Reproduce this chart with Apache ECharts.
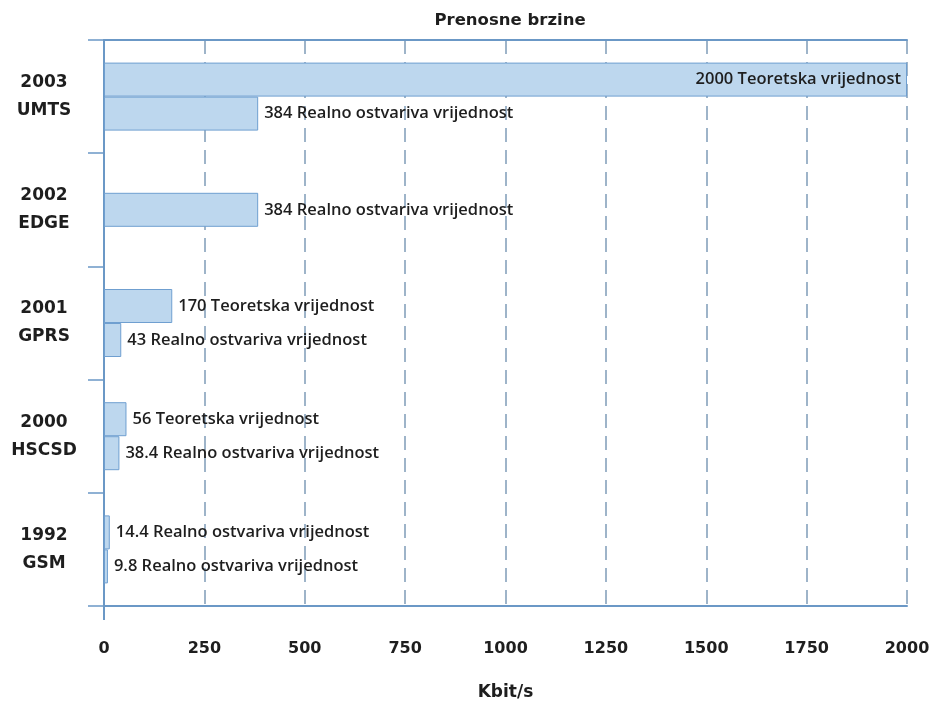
<!DOCTYPE html>
<html>
<head>
<meta charset="utf-8">
<script src="https://cdn.jsdelivr.net/npm/echarts@6/dist/echarts.min.js"></script>
<style>
  html, body { margin: 0; padding: 0; background: #ffffff; }
  #chart { width: 933px; height: 706px; }
</style>
</head>
<body>
<div id="chart"></div>
<script>
// Technologies, bottom to top
const categories = ['1992\nGSM', '2000\nHSCSD', '2001\nGPRS', '2002\nEDGE', '2003\nUMTS'];

// Upper bar of each pair (value + description)
const upperValues = [14.4, 56, 170, '-', 2000];
const upperNames = ['Realno ostvariva vrijednost', 'Teoretska vrijednost', 'Teoretska vrijednost', '', 'Teoretska vrijednost'];

// Lower bar of each pair
const lowerValues = [9.8, 38.4, 43, '-', 384];
const lowerNames = ['Realno ostvariva vrijednost', 'Realno ostvariva vrijednost', 'Realno ostvariva vrijednost', '', 'Realno ostvariva vrijednost'];

// Single (centred) bar
const singleValues = ['-', '-', '-', 384, '-'];
const singleNames = ['', '', '', 'Realno ostvariva vrijednost', ''];

const xTicks = [0, 250, 500, 750, 1000, 1250, 1500, 1750, 2000];

const AXIS = '#6b98c6';
const GRID = '#7f9cb8';
const FILL = '#bdd7ee';
const EDGE = '#6f9fd0';
const TEXT = '#1e1e1e';
const LABEL_FONT = '"Open Sans", sans-serif';

function barItems(values, names, insideAtMax) {
  return values.map((v, i) => {
    if (v === '-') return '-';
    const item = { value: v, name: names[i] };
    if (insideAtMax && v >= 2000) {
      item.label = { position: 'insideRight', distance: 6 };
    }
    return item;
  });
}

function barLabel() {
  return {
    show: true,
    position: 'right',
    distance: 6,
    color: TEXT,
    fontFamily: LABEL_FONT,
    fontSize: 16.5,
    fontWeight: 600,
    formatter: p => p.value + ' ' + p.data.name
  };
}

const barStyle = { color: FILL, borderColor: EDGE, borderWidth: 1 };

const chart = echarts.init(document.getElementById('chart'), null, { renderer: 'canvas' });

chart.setOption({
  animation: false,
  backgroundColor: '#ffffff',
  title: {
    text: 'Prenosne brzine',
    left: 505,
    textAlign: 'center',
    top: 7,
    textStyle: { fontFamily: 'DejaVu Sans', fontSize: 16.5, fontWeight: 'bold', color: TEXT }
  },
  grid: { left: 104, right: 26, top: 40, bottom: 92, containLabel: false },
  xAxis: [
    {
      type: 'value',
      min: 0,
      max: 2000,
      interval: 250,
      position: 'bottom',
      name: 'Kbit/s',
      nameLocation: 'middle',
      nameGap: 78,
      nameTextStyle: { fontFamily: 'DejaVu Sans', fontSize: 17, fontWeight: 'bold', color: TEXT },
      axisLine: { show: true, lineStyle: { color: AXIS, width: 2 } },
      axisTick: { show: true, customValues: [0], length: 14, lineStyle: { color: AXIS, width: 2 } },
      axisLabel: {
        margin: 35,
        customValues: xTicks,
        fontFamily: 'DejaVu Sans',
        fontSize: 16,
        fontWeight: 'bold',
        color: TEXT,
        formatter: v => String(v)
      },
      splitLine: { show: false }
    },
    {
      // frame line along the top edge; carries the dashed grid lines
      type: 'value',
      min: 0,
      max: 2000,
      interval: 250,
      position: 'top',
      axisLine: { show: true, lineStyle: { color: AXIS, width: 2 } },
      axisTick: { show: false },
      axisLabel: { show: false },
      splitLine: { show: true, lineStyle: { color: GRID, width: 1.5, type: [14, 8] } }
    }
  ],
  yAxis: [
    {
      type: 'category',
      data: categories,
      axisLine: { show: true, lineStyle: { color: AXIS, width: 2 } },
      axisTick: { show: true, length: 16, lineStyle: { color: AXIS, width: 1.5 } },
      axisLabel: {
        align: 'center',
        margin: 60,
        lineHeight: 28,
        fontFamily: 'DejaVu Sans',
        fontSize: 17,
        fontWeight: 'bold',
        color: TEXT
      }
    },
    {
      type: 'category',
      data: categories,
      show: false
    }
  ],
  series: [
    {
      type: 'bar',
      yAxisIndex: 0,
      barWidth: 34,
      barGap: '0%',
      data: barItems(upperValues, upperNames, true),
      itemStyle: barStyle,
      label: barLabel()
    },
    {
      type: 'bar',
      yAxisIndex: 0,
      barWidth: 34,
      barGap: '0%',
      data: barItems(lowerValues, lowerNames, false),
      itemStyle: barStyle,
      label: barLabel()
    },
    {
      type: 'bar',
      yAxisIndex: 1,
      barWidth: 34,
      data: barItems(singleValues, singleNames, false),
      itemStyle: barStyle,
      label: barLabel()
    }
  ]
});
</script>
</body>
</html>
